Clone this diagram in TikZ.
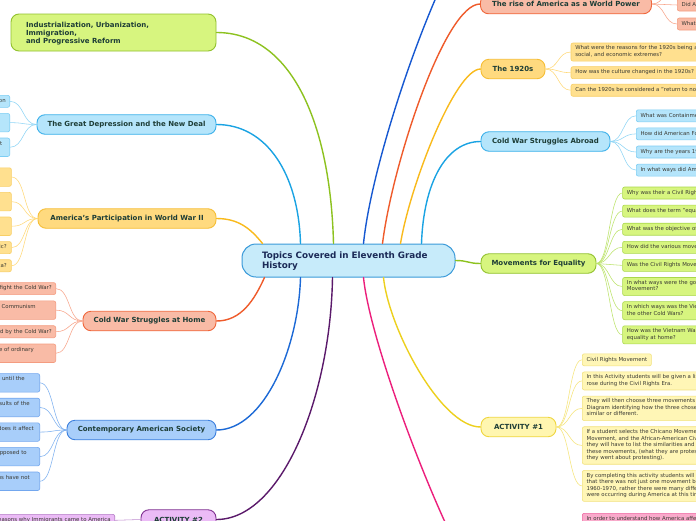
\documentclass[tikz,border=0pt]{standalone}
\usepackage{fontspec}
\setmainfont{DejaVu Sans}
\usetikzlibrary{positioning}

\definecolor{mapHubFill}{HTML}{C7EBFA}
\definecolor{mapHubLine}{HTML}{3A9AD9}
\definecolor{mapHubText}{HTML}{1B2A57}
\definecolor{mapTopicText}{HTML}{1D3D36}
\definecolor{mapLeafText}{HTML}{3A3A33}
\definecolor{mapGreenFill}{HTML}{D7F57F}
\definecolor{mapGreenLine}{HTML}{92C12E}
\definecolor{mapGreenLeaf}{HTML}{AAD84C}
\definecolor{mapGreenTwig}{HTML}{BCE36A}
\definecolor{mapGreenBranch}{HTML}{8DC21F}
\definecolor{mapSkyFill}{HTML}{B5E5FB}
\definecolor{mapSkyLine}{HTML}{3BB0EA}
\definecolor{mapSkyLeaf}{HTML}{7ECEF4}
\definecolor{mapSkyTwig}{HTML}{8ED5F6}
\definecolor{mapSkyBranch}{HTML}{1AA3E3}
\definecolor{mapAmberFill}{HTML}{FFDA7F}
\definecolor{mapAmberLine}{HTML}{F6BE36}
\definecolor{mapAmberLeafFill}{HTML}{FFE08F}
\definecolor{mapAmberLeaf}{HTML}{F8CF66}
\definecolor{mapAmberTwig}{HTML}{FFD978}
\definecolor{mapAmberBranch}{HTML}{F9BA1C}
\definecolor{mapSalmonFill}{HTML}{F9BBA6}
\definecolor{mapSalmonLine}{HTML}{F0673C}
\definecolor{mapSalmonLeaf}{HTML}{F49C80}
\definecolor{mapSalmonTwig}{HTML}{F8A58B}
\definecolor{mapSalmonBranch}{HTML}{EF5B2B}
\definecolor{mapCornFill}{HTML}{A8CEFA}
\definecolor{mapCornLine}{HTML}{3D80DE}
\definecolor{mapCornLeaf}{HTML}{73A7EE}
\definecolor{mapCornTwig}{HTML}{7DB0F0}
\definecolor{mapCornBranch}{HTML}{1C69D6}
\definecolor{mapLilacFill}{HTML}{EBBBF6}
\definecolor{mapLilacLine}{HTML}{7F2F90}
\definecolor{mapLilacLeaf}{HTML}{B47DC6}
\definecolor{mapLilacTwig}{HTML}{C08CD0}
\definecolor{mapLilacBranch}{HTML}{5B1A6B}
\definecolor{mapLemonFill}{HTML}{FFF6B0}
\definecolor{mapLemonLine}{HTML}{EFD640}
\definecolor{mapLemonLeafFill}{HTML}{FFF6B6}
\definecolor{mapLemonLeaf}{HTML}{F2E27E}
\definecolor{mapLemonTwig}{HTML}{F6E57A}
\definecolor{mapLemonBranch}{HTML}{EDD01E}
\definecolor{mapPinkFill}{HTML}{F9AACB}
\definecolor{mapPinkLeaf}{HTML}{EE66A0}
\definecolor{mapPinkBranch}{HTML}{EC1F7C}
\definecolor{mapNavyBranch}{HTML}{1658D1}

\newcommand{\hubfont}{\fontsize{8.8}{10.2}\selectfont\bfseries}
\newcommand{\topicfont}{\fontsize{7}{8.2}\selectfont\bfseries}
\newcommand{\leaffont}{\fontsize{5.4}{6.5}\selectfont}

\tikzset{
  hub/.style={rectangle, rounded corners=14pt, draw=mapHubLine, fill=mapHubFill, line width=1pt,
    text=mapHubText, font=\hubfont, align=left, text width=173pt, inner xsep=20pt,
    minimum height=33pt},
  topic/.style={rectangle, rounded corners=8pt, line width=0.9pt, minimum height=19.5pt,
    inner sep=2pt, align=center, font=\topicfont, text=mapTopicText},
  leaf/.style={rectangle, rounded corners=2pt, line width=0.6pt, inner xsep=4.3pt,
    inner ysep=2.75pt, font=\leaffont, text=mapLeafText,
    execute at begin node=\strut, execute at end node=\strut},
  leafright/.style={leaf, anchor=north west, align=left},
  leafleft/.style={leaf, anchor=north east, align=right, text width=90pt},
  branch/.style={line width=1.4pt, line cap=round},
  twig/.style={line width=0.55pt},
  greenbox/.style={fill=mapGreenFill, draw=mapGreenLine},
  skybox/.style={fill=mapSkyFill, draw=mapSkyLine},
  amberbox/.style={fill=mapAmberFill, draw=mapAmberLine},
  salmonbox/.style={fill=mapSalmonFill, draw=mapSalmonLine},
  cornbox/.style={fill=mapCornFill, draw=mapCornLine},
  lilacbox/.style={fill=mapLilacFill, draw=mapLilacLine},
  lemonbox/.style={fill=mapLemonFill, draw=mapLemonLine},
  greenleaf/.style={fill=mapGreenFill, draw=mapGreenLeaf},
  skyleaf/.style={fill=mapSkyFill, draw=mapSkyLeaf},
  amberleaf/.style={fill=mapAmberLeafFill, draw=mapAmberLeaf},
  salmonleaf/.style={fill=mapSalmonFill, draw=mapSalmonLeaf},
  cornleaf/.style={fill=mapCornFill, draw=mapCornLeaf},
  lilacleaf/.style={fill=mapLilacFill, draw=mapLilacLeaf},
  lemonleaf/.style={fill=mapLemonLeafFill, draw=mapLemonLeaf},
  pinkleaf/.style={fill=mapPinkFill, draw=mapPinkLeaf},
}

\begin{document}
\begin{tikzpicture}[x=1pt, y=-1pt]
  \useasboundingbox (0,0) rectangle (696,520);
  \fill[white] (0,0) rectangle (696,520);

  % hub and topics
  \node[hub] (hub) at (348.5,260.5) {\rule{0pt}{8pt}Topics Covered in Eleventh Grade\\History};

  \node[topic, greenbox, minimum width=205pt, minimum height=37pt, text width=175pt, align=left]
    (industry) at (113.5,32.5) {\rule{0pt}{7pt}Industrialization, Urbanization,\\Immigration,\\and Progressive Reform};
  \node[topic, skybox, minimum width=179pt] (depression) at (126.5,124.5) {The Great Depression and the New Deal};
  \node[topic, amberbox, minimum width=178pt] (worldwar) at (127,218.5) {America's Participation in World War II};
  \node[topic, salmonbox, minimum width=133pt] (homefront) at (149.5,321) {Cold War Struggles at Home};
  \node[topic, cornbox, minimum width=149pt] (society) at (141.5,430) {Contemporary American Society};
  \node[topic, lilacbox, minimum width=75pt] (activitytwo) at (178.5,519.5) {ACTIVITY \#2};

  \node[topic, salmonbox, minimum width=171pt] (worldpower) at (566,4) {The rise of America as a World Power};
  \node[topic, amberbox, minimum width=64pt] (twenties) at (513,69) {The 1920s};
  \node[topic, skybox, minimum width=129pt] (abroad) at (545.5,141.5) {Cold War Struggles Abroad};
  \node[topic, greenbox, minimum width=115pt] (equality) at (538.5,263.5) {Movements for Equality};
  \node[topic, lemonbox, minimum width=75pt] (activityone) at (518.5,427) {ACTIVITY \#1};

  \coordinate (upperhub) at (486,-80);
  \coordinate (lowerhub) at (486,590);
  \coordinate (powerabove) at (677,-13);

  % left leaves
  \node[leafleft, skyleaf, inner xsep=4pt] (slump1) at (10,95) {Depression};
  \node[leafleft, skyleaf, below=5.5pt of slump1.south east, anchor=north east] (slump2) {\mbox{}\\\mbox{}};
  \node[leafleft, skyleaf, inner xsep=7.5pt, below=5.5pt of slump2.south east, anchor=north east] (slump3) {impact\\\mbox{}};

  \node[leafleft, amberleaf] (war1) at (11.7,167.5) {\mbox{}\\\mbox{}};
  \node[leafleft, amberleaf, below=5.5pt of war1.south east, anchor=north east] (war2) {\mbox{}\\\mbox{}};
  \node[leafleft, amberleaf, below=5.5pt of war2.south east, anchor=north east] (war3) {\mbox{}\\\mbox{}};
  \node[leafleft, amberleaf, inner xsep=4.7pt, below=5.5pt of war3.south east, anchor=north east] (war4) {Pacific?};
  \node[leafleft, amberleaf, inner xsep=4.7pt, below=5.5pt of war4.south east, anchor=north east] (war5) {America?};

  \node[leafleft, salmonleaf, inner xsep=4pt] (home1) at (56,282.3) {fight the Cold War?};
  \node[leafleft, salmonleaf, inner xsep=20pt, below=5.7pt of home1.south east, anchor=north east] (home2) {of Communism\\\mbox{}};
  \node[leafleft, salmonleaf, inner xsep=4pt, below=5.7pt of home2.south east, anchor=north east] (home3) {influenced by the Cold War?};
  \node[leafleft, salmonleaf, inner xsep=22pt, below=5.7pt of home3.south east, anchor=north east] (home4) {life of ordinary\\\mbox{}};

  \node[leafleft, cornleaf, inner xsep=15pt] (today1) at (40,373.3) {1970s until the\\\mbox{}};
  \node[leafleft, cornleaf, inner xsep=10pt, below=5.5pt of today1.south east, anchor=north east] (today2) {results of the\\\mbox{}};
  \node[leafleft, cornleaf, inner xsep=6pt, below=5.5pt of today2.south east, anchor=north east] (today3) {how does it affect\\\mbox{}};
  \node[leafleft, cornleaf, inner xsep=13pt, below=5.5pt of today3.south east, anchor=north east] (today4) {as opposed to\\\mbox{}};
  \node[leafleft, cornleaf, inner xsep=10pt, below=5.5pt of today4.south east, anchor=north east] (today5) {Americans have not\\\mbox{}};

  \node[leafleft, lilacleaf, inner xsep=4pt, text width=130pt] (immig1) at (115,514) {reasons why Immigrants came to America};

  % right leaves
  \node[leafright, salmonleaf, anchor=west] (power1) at (677,5) {Did America become a world power?};
  \node[leafright, salmonleaf, anchor=west] (power2) at (677,24) {What were the causes of the war?};

  \node[leafright, amberleaf] (roaring1) at (570.7,42.7) {What were the reasons for the 1920s being a time of political,\\social, and economic extremes?};
  \node[leafright, amberleaf, below=5pt of roaring1.south west, anchor=north west] (roaring2) {How was the culture changed in the 1920s?};
  \node[leafright, amberleaf, below=5pt of roaring2.south west, anchor=north west] (roaring3) {Can the 1920s be considered a "return to normalcy"?};

  \node[leafright, skyleaf] (abroad1) at (636,109.5) {What was Containment?};
  \node[leafright, skyleaf, below=5.5pt of abroad1.south west, anchor=north west] (abroad2) {How did American Foreign Policy change?};
  \node[leafright, skyleaf, below=5.5pt of abroad2.south west, anchor=north west] (abroad3) {Why are the years 1945-1991 called the Cold War?};
  \node[leafright, skyleaf, below=5.5pt of abroad3.south west, anchor=north west] (abroad4) {In what ways did America fight abroad?};

  \node[leafright, greenleaf] (equal1) at (622.3,186.7) {Why was their a Civil Rights Movement?};
  \node[leafright, greenleaf, below=5.5pt of equal1.south west, anchor=north west] (equal2) {What does the term "equality" mean?};
  \node[leafright, greenleaf, below=5.5pt of equal2.south west, anchor=north west] (equal3) {What was the objective of the Civil Rights Movement?};
  \node[leafright, greenleaf, below=5.5pt of equal3.south west, anchor=north west] (equal4) {How did the various movements fight for equality?};
  \node[leafright, greenleaf, below=5.5pt of equal4.south west, anchor=north west] (equal5) {Was the Civil Rights Movement successful?};
  \node[leafright, greenleaf, below=5.5pt of equal5.south west, anchor=north west] (equal6) {In what ways were the goals of the Civil Rights\\Movement?};
  \node[leafright, greenleaf, below=5.5pt of equal6.south west, anchor=north west] (equal7) {In which ways was the Vietnam War different from\\the other Cold Wars?};
  \node[leafright, greenleaf, below=5.5pt of equal7.south west, anchor=north west] (equal8) {How was the Vietnam War a struggle for\\equality at home?};

  \node[leafright, lemonleaf] (task1) at (582,353.5) {Civil Rights Movement};
  \node[leafright, lemonleaf, below=5.5pt of task1.south west, anchor=north west] (task2) {In this Activity students will be given a list of movements that\\rose during the Civil Rights Era.};
  \node[leafright, lemonleaf, below=5.5pt of task2.south west, anchor=north west] (task3) {They will then choose three movements and complete a Venn\\Diagram identifying how the three chosen movements are\\similar or different.};
  \node[leafright, lemonleaf, below=5.5pt of task3.south west, anchor=north west] (task4) {If a student selects the Chicano Movement, the Women's Rights\\Movement, and the African-American Civil Rights Movement,\\they will have to list the similarities and differences of\\these movements, (what they are protesting, how\\they went about protesting).};
  \node[leafright, lemonleaf, below=5.5pt of task4.south west, anchor=north west] (task5) {By completing this activity students will understand\\that there was not just one movement between\\1960-1970, rather there were many different movements that\\were occurring during America at this time.};

  \node[leafright, pinkleaf] (global1) at (582,513) {In order to understand how America affected the world\\\mbox{}};

  % branches from the hub
  \draw[branch, mapGreenBranch] ([xshift=-15pt]hub.north) .. controls +(-3,-120) and +(75,0) .. (industry.east);
  \draw[branch, mapSkyBranch] ([xshift=-48pt]hub.north) .. controls +(-2,-70) and +(50,0) .. (depression.east);
  \draw[branch, mapAmberBranch] ([xshift=-86pt]hub.north) .. controls +(-12,-15) and +(22,0) .. (worldwar.east);
  \draw[branch, mapSalmonBranch] ([xshift=-84pt]hub.south) .. controls +(-10,22) and +(25,0) .. (homefront.east);
  \draw[branch, mapCornBranch] ([xshift=-48pt]hub.south) .. controls +(-2,70) and +(48,0) .. (society.east);
  \draw[branch, mapLilacBranch] ([xshift=-16pt]hub.south) .. controls +(-2,120) and +(65,0) .. (activitytwo.east);
  \draw[branch, mapPinkBranch] ([xshift=15pt]hub.south) .. controls +(8,80) and +(-20,0) .. (lowerhub);
  \draw[branch, mapLemonBranch] ([xshift=35pt]hub.south) .. controls +(5,50) and +(-40,0) .. (activityone.west);
  \draw[branch, mapGreenBranch] (hub.east) .. controls +(13,0) and +(-13,0) .. (equality.west);
  \draw[branch, mapSkyBranch] ([xshift=73pt]hub.north) .. controls +(2,-60) and +(-35,0) .. (abroad.west);
  \draw[branch, mapAmberBranch] ([xshift=52pt]hub.north) .. controls +(10,-60) and +(-25,0) .. (twenties.west);
  \draw[branch, mapSalmonBranch] ([xshift=34pt]hub.north) .. controls +(10,-80) and +(-35,0) .. (worldpower.west);
  \draw[branch, mapNavyBranch] ([xshift=15pt]hub.north) .. controls +(10,-100) and +(-30,0) .. (upperhub);

  % twigs to the leaves
  \foreach \leafname in {slump1,slump2,slump3}
    \draw[twig, mapSkyTwig] (depression.west) .. controls +(-14,0) and +(14,0) .. (\leafname.east);
  \foreach \leafname in {war1,war2,war3,war4,war5}
    \draw[twig, mapAmberTwig] (worldwar.west) .. controls +(-14,0) and +(14,0) .. (\leafname.east);
  \foreach \leafname in {home1,home2,home3,home4}
    \draw[twig, mapSalmonTwig] (homefront.west) .. controls +(-14,0) and +(14,0) .. (\leafname.east);
  \foreach \leafname in {today1,today2,today3,today4,today5}
    \draw[twig, mapCornTwig] (society.west) .. controls +(-14,0) and +(14,0) .. (\leafname.east);
  \draw[twig, mapLilacTwig] (activitytwo.west) .. controls +(-13,0) and +(13,0) .. (immig1.east);

  \foreach \leafname in {power1,power2}
    \draw[twig, mapSalmonTwig] (worldpower.east) .. controls +(13,0) and +(-13,0) .. (\leafname.west);
  \draw[twig, mapSalmonTwig] (worldpower.east) .. controls +(13,0) and +(-13,0) .. (powerabove);
  \foreach \leafname in {roaring1,roaring2,roaring3}
    \draw[twig, mapAmberTwig] (twenties.east) .. controls +(13,0) and +(-13,0) .. (\leafname.west);
  \foreach \leafname in {abroad1,abroad2,abroad3,abroad4}
    \draw[twig, mapSkyTwig] (abroad.east) .. controls +(13,0) and +(-13,0) .. (\leafname.west);
  \foreach \leafname in {equal1,equal2,equal3,equal4,equal5,equal6,equal7,equal8}
    \draw[twig, mapGreenTwig] (equality.east) .. controls +(13,0) and +(-13,0) .. (\leafname.west);
  \foreach \leafname in {task1,task2,task3,task4,task5}
    \draw[twig, mapLemonTwig] (activityone.east) .. controls +(13,0) and +(-13,0) .. (\leafname.west);
\end{tikzpicture}
\end{document}
